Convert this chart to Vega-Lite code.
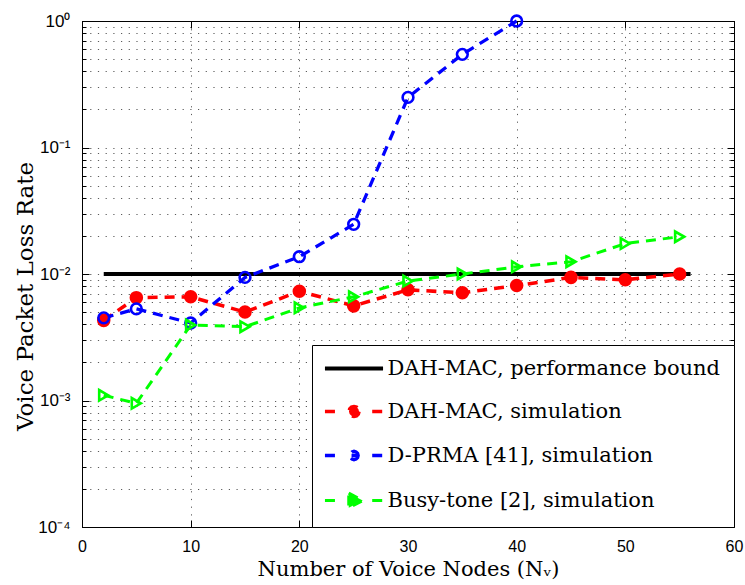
{
  "$schema": "https://vega.github.io/schema/vega-lite/v6.json",
  "width": 652,
  "height": 506,
  "autosize": "none",
  "padding": {"left": 82, "top": 21, "right": 11, "bottom": 58},
  "background": "white",
  "config": {
    "view": {"stroke": "black", "strokeWidth": 1},
    "axis": {
      "labelFont": "Liberation Sans",
      "labelFontSize": 16,
      "labelColor": "black",
      "titleFont": "DejaVu Serif",
      "titleFontSize": 21,
      "titleFontWeight": "normal",
      "titleColor": "black",
      "domainColor": "black",
      "tickColor": "black",
      "gridColor": "#333333",
      "gridDash": [1.2, 6.5],
      "gridOpacity": 0.8
    }
  },
  "data": {
    "values": [
      {"series": "DAH-MAC, performance bound", "x": 2, "y": 0.01},
      {"series": "DAH-MAC, performance bound", "x": 56, "y": 0.01},
      {"series": "DAH-MAC, simulation", "x": 2, "y": 0.0043},
      {"series": "DAH-MAC, simulation", "x": 5, "y": 0.0065},
      {"series": "DAH-MAC, simulation", "x": 10, "y": 0.0066},
      {"series": "DAH-MAC, simulation", "x": 15, "y": 0.005},
      {"series": "DAH-MAC, simulation", "x": 20, "y": 0.0073},
      {"series": "DAH-MAC, simulation", "x": 25, "y": 0.0056},
      {"series": "DAH-MAC, simulation", "x": 30, "y": 0.0075},
      {"series": "DAH-MAC, simulation", "x": 35, "y": 0.0071},
      {"series": "DAH-MAC, simulation", "x": 40, "y": 0.0081},
      {"series": "DAH-MAC, simulation", "x": 45, "y": 0.0094},
      {"series": "DAH-MAC, simulation", "x": 50, "y": 0.009},
      {"series": "DAH-MAC, simulation", "x": 55, "y": 0.01},
      {"series": "D-PRMA [41], simulation", "x": 2, "y": 0.0045},
      {"series": "D-PRMA [41], simulation", "x": 5, "y": 0.0053},
      {"series": "D-PRMA [41], simulation", "x": 10, "y": 0.0041},
      {"series": "D-PRMA [41], simulation", "x": 15, "y": 0.0094},
      {"series": "D-PRMA [41], simulation", "x": 20, "y": 0.0137},
      {"series": "D-PRMA [41], simulation", "x": 25, "y": 0.0247},
      {"series": "D-PRMA [41], simulation", "x": 30, "y": 0.249},
      {"series": "D-PRMA [41], simulation", "x": 35, "y": 0.545},
      {"series": "D-PRMA [41], simulation", "x": 40, "y": 1.0},
      {"series": "Busy-tone [2], simulation", "x": 2, "y": 0.0011},
      {"series": "Busy-tone [2], simulation", "x": 5, "y": 0.00095},
      {"series": "Busy-tone [2], simulation", "x": 10, "y": 0.00395},
      {"series": "Busy-tone [2], simulation", "x": 15, "y": 0.00383},
      {"series": "Busy-tone [2], simulation", "x": 20, "y": 0.0054},
      {"series": "Busy-tone [2], simulation", "x": 25, "y": 0.0066},
      {"series": "Busy-tone [2], simulation", "x": 30, "y": 0.0088},
      {"series": "Busy-tone [2], simulation", "x": 35, "y": 0.01},
      {"series": "Busy-tone [2], simulation", "x": 40, "y": 0.0114},
      {"series": "Busy-tone [2], simulation", "x": 45, "y": 0.0125},
      {"series": "Busy-tone [2], simulation", "x": 50, "y": 0.0174},
      {"series": "Busy-tone [2], simulation", "x": 55, "y": 0.0197}
    ]
  },
  "layer": [
    {
      "mark": {"type": "line"},
      "encoding": {
        "x": {
          "field": "x", "type": "quantitative",
          "scale": {"domain": [0, 60], "nice": false, "zero": false},
          "axis": {
            "orient": "bottom",
            "values": [0, 10, 20, 30, 40, 50, 60],
            "title": "Number of Voice Nodes (Nᵥ)",
            "titlePadding": 4,
            "tickSize": -7,
            "labelPadding": 18,
            "grid": true,
            "labelFlush": false
          }
        },
        "y": {
          "field": "y", "type": "quantitative",
          "scale": {"type": "log", "domain": [0.0001, 1], "nice": false},
          "axis": {
            "orient": "left",
            "values": [0.0001, 0.0002, 0.0003, 0.0004, 0.0005, 0.0006, 0.0007, 0.0008, 0.0009, 0.001, 0.002, 0.003, 0.004, 0.005, 0.006, 0.007, 0.008, 0.009, 0.01, 0.02, 0.03, 0.04, 0.05, 0.06, 0.07, 0.08, 0.09, 0.1, 0.2, 0.3, 0.4, 0.5, 0.6, 0.7, 0.8, 0.9, 1],
            "labelExpr": "datum.value == 1 ? '10⁰' : datum.value == 0.1 ? '10⁻¹' : datum.value == 0.01 ? '10⁻²' : datum.value == 0.001 ? '10⁻³' : datum.value == 0.0001 ? '10⁻⁴' : ''",
            "labelOverlap": false,
            "labelFlush": false,
            "labelFontSize": 17,
            "title": "Voice Packet Loss Rate",
            "titleFontSize": 23,
            "titleX": -57,
            "titleY": 275,
            "titleAngle": 270,
            "titleBaseline": "middle",
            "titleAlign": "center",
            "tickSize": {"condition": {"test": "datum.value == 1 || datum.value == 0.1 || datum.value == 0.01 || datum.value == 0.001 || datum.value == 0.0001", "value": -7}, "value": -4},
            "labelPadding": 19,
            "grid": true
          }
        },
        "color": {
          "field": "series", "type": "nominal",
          "scale": {
            "domain": ["DAH-MAC, performance bound", "DAH-MAC, simulation", "D-PRMA [41], simulation", "Busy-tone [2], simulation"],
            "range": ["#000000", "#ff0000", "#0000ff", "#00ff00"]
          },
          "legend": {
            "title": null,
            "orient": "bottom-right",
            "offset": 0,
            "strokeColor": "black",
            "fillColor": "white",
            "padding": 13,
            "labelFont": "DejaVu Serif",
            "labelFontSize": 21,
            "labelColor": "black",
            "labelLimit": 500,
            "symbolOffset": 18.5,
            "labelOffset": 23,
            "rowPadding": 20,
            "symbolSize": 196,
            "symbolStrokeWidth": 3,
            "encode": {
              "symbols": {
                "update": {
                  "shape": {"signal": "datum.value === 'DAH-MAC, performance bound' ? 'M-4.15,0L4.15,0' : datum.value === 'DAH-MAC, simulation' ? 'M-4.15,0L-2.6,0M2.6,0L4.15,0M0.72,0L0.62,0.36L0.36,0.62L0,0.72L-0.36,0.62L-0.62,0.36L-0.72,0L-0.62,-0.36L-0.36,-0.62L0,-0.72L0.36,-0.62L0.62,-0.36Z' : datum.value === 'D-PRMA [41], simulation' ? 'M-4.15,0L-2.6,0M2.6,0L4.15,0M-0.35,0L0.35,0M0.6,0L0.52,0.3L0.3,0.52L0,0.6L-0.3,0.52L-0.52,0.3L-0.6,0L-0.52,-0.3L-0.3,-0.52L0,-0.6L0.3,-0.52L0.52,-0.3Z' : 'M-4.15,0L-2.6,0M2.6,0L4.15,0M-0.75,-1.05L1.25,0L-0.75,1.05Z'"},
                  "fill": {"signal": "datum.value === 'DAH-MAC, simulation' ? '#ff0000' : datum.value === 'Busy-tone [2], simulation' ? '#00ff00' : 'transparent'"},
                  "stroke": {"signal": "datum.value === 'DAH-MAC, performance bound' ? '#000000' : datum.value === 'DAH-MAC, simulation' ? '#ff0000' : datum.value === 'D-PRMA [41], simulation' ? '#0000ff' : '#00ff00'"},
                  "strokeWidth": {"signal": "datum.value === 'DAH-MAC, performance bound' ? 3.5 : 3"},
                  "strokeDash": {"value": [1, 0]},
                  "opacity": {"value": 1}
                }
              }
            }
          }
        },
        "strokeDash": {
          "field": "series", "type": "nominal",
          "scale": {
            "domain": ["DAH-MAC, performance bound", "DAH-MAC, simulation", "D-PRMA [41], simulation", "Busy-tone [2], simulation"],
            "range": [[1, 0], [10, 7], [10, 7], [10, 7]]
          },
          "legend": null
        },
        "strokeWidth": {
          "field": "series", "type": "nominal",
          "scale": {
            "domain": ["DAH-MAC, performance bound", "DAH-MAC, simulation", "D-PRMA [41], simulation", "Busy-tone [2], simulation"],
            "range": [3.8, 3, 3, 3]
          },
          "legend": null
        }
      }
    },
    {
      "transform": [{"filter": "datum.series !== 'DAH-MAC, performance bound'"}],
      "mark": {"type": "point", "strokeWidth": 2.6, "opacity": 1},
      "encoding": {
        "x": {"field": "x", "type": "quantitative", "axis": null},
        "y": {"field": "y", "type": "quantitative", "axis": null},
        "shape": {
          "field": "series", "type": "nominal",
          "scale": {"domain": ["DAH-MAC, simulation", "D-PRMA [41], simulation", "Busy-tone [2], simulation"], "range": ["circle", "circle", "triangle-right"]},
          "legend": null
        },
        "size": {
          "field": "series", "type": "nominal",
          "scale": {"domain": ["DAH-MAC, simulation", "D-PRMA [41], simulation", "Busy-tone [2], simulation"], "range": [120, 110, 300]},
          "legend": null
        },
        "fill": {
          "field": "series", "type": "nominal",
          "scale": {"domain": ["DAH-MAC, simulation", "D-PRMA [41], simulation", "Busy-tone [2], simulation"], "range": ["#ff0000", "transparent", "transparent"]},
          "legend": null
        },
        "stroke": {
          "field": "series", "type": "nominal",
          "scale": {"domain": ["DAH-MAC, simulation", "D-PRMA [41], simulation", "Busy-tone [2], simulation"], "range": ["#ff0000", "#0000ff", "#00ff00"]},
          "legend": null
        }
      }
    },
    {
      "mark": {"type": "point", "opacity": 0},
      "encoding": {
        "x": {
          "field": "x", "type": "quantitative",
          "axis": {"orient": "top", "values": [0, 10, 20, 30, 40, 50, 60], "labels": false, "title": null, "grid": false, "tickSize": -7, "domain": true}
        },
        "y": {
          "field": "y", "type": "quantitative",
          "axis": {
            "orient": "right",
            "values": [0.0001, 0.0002, 0.0003, 0.0004, 0.0005, 0.0006, 0.0007, 0.0008, 0.0009, 0.001, 0.002, 0.003, 0.004, 0.005, 0.006, 0.007, 0.008, 0.009, 0.01, 0.02, 0.03, 0.04, 0.05, 0.06, 0.07, 0.08, 0.09, 0.1, 0.2, 0.3, 0.4, 0.5, 0.6, 0.7, 0.8, 0.9, 1],
            "labels": false, "title": null, "grid": false, "domain": true,
            "tickSize": {"condition": {"test": "datum.value == 1 || datum.value == 0.1 || datum.value == 0.01 || datum.value == 0.001 || datum.value == 0.0001", "value": -7}, "value": -4}
          }
        }
      }
    }
  ],
  "resolve": {"axis": {"x": "independent", "y": "independent"}}
}
